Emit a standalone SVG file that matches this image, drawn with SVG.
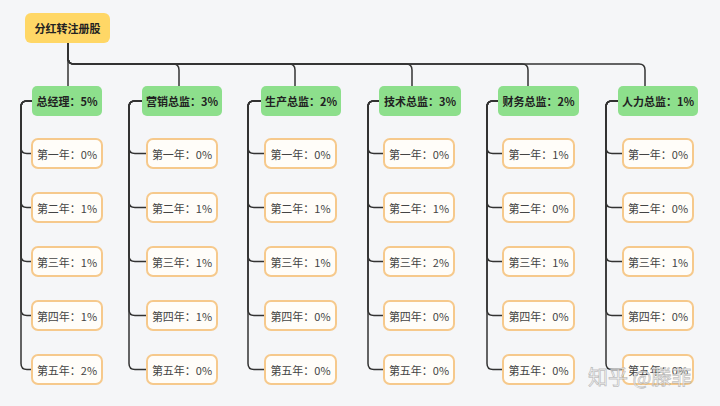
<svg xmlns="http://www.w3.org/2000/svg" width="720" height="406" viewBox="0 0 720 406">
<style>
.bg{fill:#F5F6F8}
.root{fill:#FFD766}
.l1{fill:#8DDF8C}
.l2{fill:#FFFDF9;stroke:#F6C98C;stroke-width:2}
.t{font-family:"Noto Sans CJK SC","Liberation Sans",sans-serif;font-size:11px;text-anchor:middle;dominant-baseline:central}
.tb{font-weight:bold;fill:#222}
.tn{fill:#444}
.c{fill:none;stroke:#333;stroke-width:1.5}
.wm{font-family:"Noto Sans CJK SC",sans-serif;font-size:20px;fill:#FFFFFF;fill-opacity:0.75;stroke:#999;stroke-opacity:0.6;stroke-width:0.8}
</style>
<rect class="bg" x="0" y="0" width="720" height="406"/>
<g id="connectors">
<path class="c" d="M68,43 V86"/>
<path class="c" d="M68,43 V58 Q68,64 74,64 H173 Q179,64 179,70 V86"/>
<path class="c" d="M68,43 V58 Q68,64 74,64 H289 Q295,64 295,70 V86"/>
<path class="c" d="M68,43 V58 Q68,64 74,64 H406 Q412,64 412,70 V86"/>
<path class="c" d="M68,43 V58 Q68,64 74,64 H522 Q528,64 528,70 V86"/>
<path class="c" d="M68,43 V58 Q68,64 74,64 H639 Q645,64 645,70 V86"/>
<g id="c1">
<path class="c" d="M32,101 H27 Q21,101 21,107 V147.5 Q21,153.5 27,153.5 H32"/>
<path class="c" d="M32,101 H27 Q21,101 21,107 V201.5 Q21,207.5 27,207.5 H32"/>
<path class="c" d="M32,101 H27 Q21,101 21,107 V255.5 Q21,261.5 27,261.5 H32"/>
<path class="c" d="M32,101 H27 Q21,101 21,107 V309.5 Q21,315.5 27,315.5 H32"/>
<path class="c" d="M32,101 H27 Q21,101 21,107 V363.5 Q21,369.5 27,369.5 H32"/>
</g>
<g id="c2">
<path class="c" d="M142,101 H135 Q129,101 129,107 V147.5 Q129,153.5 135,153.5 H147"/>
<path class="c" d="M142,101 H135 Q129,101 129,107 V201.5 Q129,207.5 135,207.5 H147"/>
<path class="c" d="M142,101 H135 Q129,101 129,107 V255.5 Q129,261.5 135,261.5 H147"/>
<path class="c" d="M142,101 H135 Q129,101 129,107 V309.5 Q129,315.5 135,315.5 H147"/>
<path class="c" d="M142,101 H135 Q129,101 129,107 V363.5 Q129,369.5 135,369.5 H147"/>
</g>
<g id="c3">
<path class="c" d="M261,101 H254 Q248,101 248,107 V147.5 Q248,153.5 254,153.5 H265"/>
<path class="c" d="M261,101 H254 Q248,101 248,107 V201.5 Q248,207.5 254,207.5 H265"/>
<path class="c" d="M261,101 H254 Q248,101 248,107 V255.5 Q248,261.5 254,261.5 H265"/>
<path class="c" d="M261,101 H254 Q248,101 248,107 V309.5 Q248,315.5 254,315.5 H265"/>
<path class="c" d="M261,101 H254 Q248,101 248,107 V363.5 Q248,369.5 254,369.5 H265"/>
</g>
<g id="c4">
<path class="c" d="M379,101 H374 Q368,101 368,107 V147.5 Q368,153.5 374,153.5 H384"/>
<path class="c" d="M379,101 H374 Q368,101 368,107 V201.5 Q368,207.5 374,207.5 H384"/>
<path class="c" d="M379,101 H374 Q368,101 368,107 V255.5 Q368,261.5 374,261.5 H384"/>
<path class="c" d="M379,101 H374 Q368,101 368,107 V309.5 Q368,315.5 374,315.5 H384"/>
<path class="c" d="M379,101 H374 Q368,101 368,107 V363.5 Q368,369.5 374,369.5 H384"/>
</g>
<g id="c5">
<path class="c" d="M498,101 H493 Q487,101 487,107 V147.5 Q487,153.5 493,153.5 H503"/>
<path class="c" d="M498,101 H493 Q487,101 487,107 V201.5 Q487,207.5 493,207.5 H503"/>
<path class="c" d="M498,101 H493 Q487,101 487,107 V255.5 Q487,261.5 493,261.5 H503"/>
<path class="c" d="M498,101 H493 Q487,101 487,107 V309.5 Q487,315.5 493,315.5 H503"/>
<path class="c" d="M498,101 H493 Q487,101 487,107 V363.5 Q487,369.5 493,369.5 H503"/>
</g>
<g id="c6">
<path class="c" d="M618,101 H612 Q606,101 606,107 V147.5 Q606,153.5 612,153.5 H623"/>
<path class="c" d="M618,101 H612 Q606,101 606,107 V201.5 Q606,207.5 612,207.5 H623"/>
<path class="c" d="M618,101 H612 Q606,101 606,107 V255.5 Q606,261.5 612,261.5 H623"/>
<path class="c" d="M618,101 H612 Q606,101 606,107 V309.5 Q606,315.5 612,315.5 H623"/>
<path class="c" d="M618,101 H612 Q606,101 606,107 V363.5 Q606,369.5 612,369.5 H623"/>
</g>
</g>
<g id="root"><rect class="root" x="25" y="13" width="85" height="30" rx="6"/><text class="t tb" x="67.5" y="28">分红转注册股</text></g>

<g id="n1"><rect class="l1" x="32" y="86" width="70" height="30" rx="5"/><text class="t tb" x="67" y="101">总经理：5%</text></g>
<g id="n1-1"><rect class="l2" x="32" y="139" width="70" height="29" rx="6"/><text class="t tn" x="67" y="153.5">第一年：0%</text></g>
<g id="n1-2"><rect class="l2" x="32" y="193" width="70" height="29" rx="6"/><text class="t tn" x="67" y="207.5">第二年：1%</text></g>
<g id="n1-3"><rect class="l2" x="32" y="247" width="70" height="29" rx="6"/><text class="t tn" x="67" y="261.5">第三年：1%</text></g>
<g id="n1-4"><rect class="l2" x="32" y="301" width="70" height="29" rx="6"/><text class="t tn" x="67" y="315.5">第四年：1%</text></g>
<g id="n1-5"><rect class="l2" x="32" y="355" width="70" height="29" rx="6"/><text class="t tn" x="67" y="369.5">第五年：2%</text></g>

<g id="n2"><rect class="l1" x="142" y="86" width="80" height="30" rx="5"/><text class="t tb" x="182" y="101">营销总监：3%</text></g>
<g id="n2-1"><rect class="l2" x="147" y="139" width="70" height="29" rx="6"/><text class="t tn" x="182" y="153.5">第一年：0%</text></g>
<g id="n2-2"><rect class="l2" x="147" y="193" width="70" height="29" rx="6"/><text class="t tn" x="182" y="207.5">第二年：1%</text></g>
<g id="n2-3"><rect class="l2" x="147" y="247" width="70" height="29" rx="6"/><text class="t tn" x="182" y="261.5">第三年：1%</text></g>
<g id="n2-4"><rect class="l2" x="147" y="301" width="70" height="29" rx="6"/><text class="t tn" x="182" y="315.5">第四年：1%</text></g>
<g id="n2-5"><rect class="l2" x="147" y="355" width="70" height="29" rx="6"/><text class="t tn" x="182" y="369.5">第五年：0%</text></g>

<g id="n3"><rect class="l1" x="261" y="86" width="80" height="30" rx="5"/><text class="t tb" x="301" y="101">生产总监：2%</text></g>
<g id="n3-1"><rect class="l2" x="265" y="139" width="71" height="29" rx="6"/><text class="t tn" x="300.5" y="153.5">第一年：0%</text></g>
<g id="n3-2"><rect class="l2" x="265" y="193" width="71" height="29" rx="6"/><text class="t tn" x="300.5" y="207.5">第二年：1%</text></g>
<g id="n3-3"><rect class="l2" x="265" y="247" width="71" height="29" rx="6"/><text class="t tn" x="300.5" y="261.5">第三年：1%</text></g>
<g id="n3-4"><rect class="l2" x="265" y="301" width="71" height="29" rx="6"/><text class="t tn" x="300.5" y="315.5">第四年：0%</text></g>
<g id="n3-5"><rect class="l2" x="265" y="355" width="71" height="29" rx="6"/><text class="t tn" x="300.5" y="369.5">第五年：0%</text></g>

<g id="n4"><rect class="l1" x="379" y="86" width="82" height="30" rx="5"/><text class="t tb" x="420" y="101">技术总监：3%</text></g>
<g id="n4-1"><rect class="l2" x="384" y="139" width="70" height="29" rx="6"/><text class="t tn" x="419" y="153.5">第一年：0%</text></g>
<g id="n4-2"><rect class="l2" x="384" y="193" width="70" height="29" rx="6"/><text class="t tn" x="419" y="207.5">第二年：1%</text></g>
<g id="n4-3"><rect class="l2" x="384" y="247" width="70" height="29" rx="6"/><text class="t tn" x="419" y="261.5">第三年：2%</text></g>
<g id="n4-4"><rect class="l2" x="384" y="301" width="70" height="29" rx="6"/><text class="t tn" x="419" y="315.5">第四年：0%</text></g>
<g id="n4-5"><rect class="l2" x="384" y="355" width="70" height="29" rx="6"/><text class="t tn" x="419" y="369.5">第五年：0%</text></g>

<g id="n5"><rect class="l1" x="498" y="86" width="81" height="30" rx="5"/><text class="t tb" x="538.5" y="101">财务总监：2%</text></g>
<g id="n5-1"><rect class="l2" x="503" y="139" width="71" height="29" rx="6"/><text class="t tn" x="538.5" y="153.5">第一年：1%</text></g>
<g id="n5-2"><rect class="l2" x="503" y="193" width="71" height="29" rx="6"/><text class="t tn" x="538.5" y="207.5">第二年：0%</text></g>
<g id="n5-3"><rect class="l2" x="503" y="247" width="71" height="29" rx="6"/><text class="t tn" x="538.5" y="261.5">第三年：1%</text></g>
<g id="n5-4"><rect class="l2" x="503" y="301" width="71" height="29" rx="6"/><text class="t tn" x="538.5" y="315.5">第四年：0%</text></g>
<g id="n5-5"><rect class="l2" x="503" y="355" width="71" height="29" rx="6"/><text class="t tn" x="538.5" y="369.5">第五年：0%</text></g>

<g id="n6"><rect class="l1" x="618" y="86" width="80" height="30" rx="5"/><text class="t tb" x="658" y="101">人力总监：1%</text></g>
<g id="n6-1"><rect class="l2" x="623" y="139" width="70" height="29" rx="6"/><text class="t tn" x="658" y="153.5">第一年：0%</text></g>
<g id="n6-2"><rect class="l2" x="623" y="193" width="70" height="29" rx="6"/><text class="t tn" x="658" y="207.5">第二年：0%</text></g>
<g id="n6-3"><rect class="l2" x="623" y="247" width="70" height="29" rx="6"/><text class="t tn" x="658" y="261.5">第三年：1%</text></g>
<g id="n6-4"><rect class="l2" x="623" y="301" width="70" height="29" rx="6"/><text class="t tn" x="658" y="315.5">第四年：0%</text></g>
<g id="n6-5"><rect class="l2" x="623" y="355" width="70" height="29" rx="6"/><text class="t tn" x="658" y="369.5">第五年：0%</text></g>

<text class="wm" x="588" y="385">知乎 @滕菲</text>
</svg>
